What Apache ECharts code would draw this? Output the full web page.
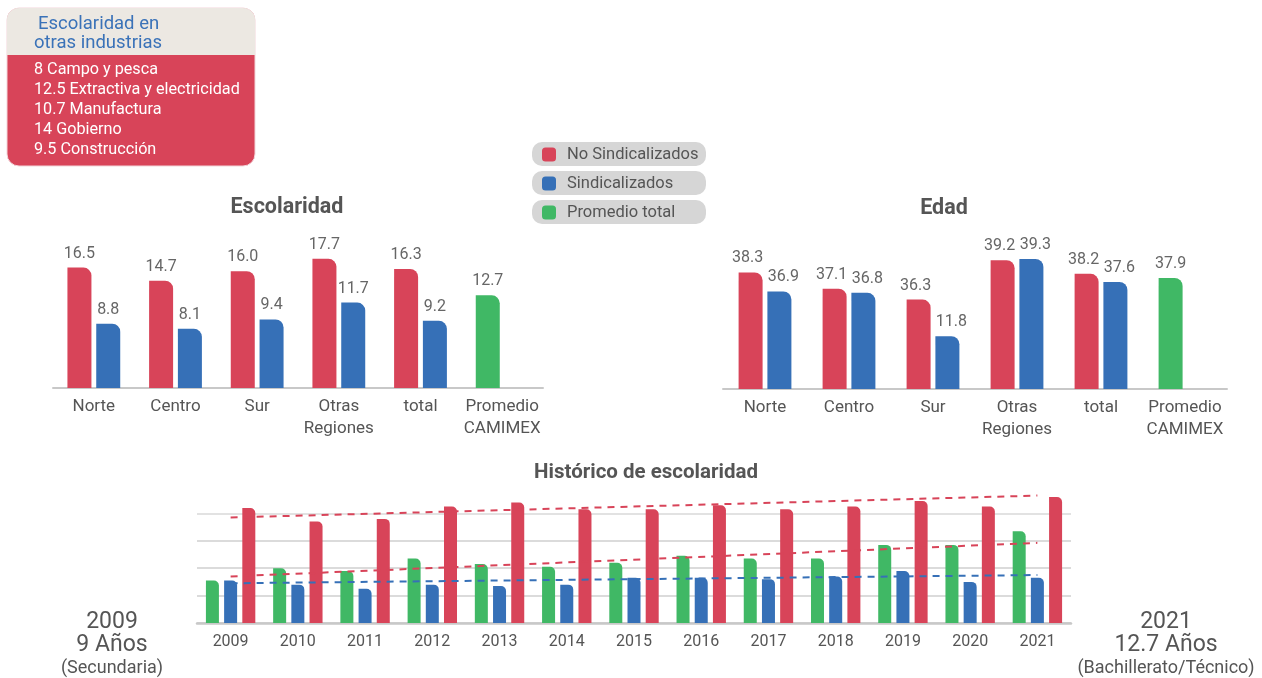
<!DOCTYPE html>
<html>
<head>
<meta charset="utf-8">
<script src="https://cdn.jsdelivr.net/npm/echarts@6/dist/echarts.min.js"></script>
<style>
  html, body { margin: 0; padding: 0; background: #fff; }
  #main { width: 1262px; height: 678px; }
</style>
</head>
<body>
<div id="main"></div>
<script>
// Datos del gráfico
const categorias = ['Norte', 'Centro', 'Sur', 'Otras\nRegiones', 'total', 'Promedio\nCAMIMEX'];

const escNoSind = [16.5, 14.7, 16.0, 17.7, 16.3, null];
const escSind = [8.8, 8.1, 9.4, 11.7, 9.2, null];
const escProm = [null, null, null, null, null, 12.7];

const edadNoSind = [38.3, 37.1, 36.3, 39.2, 38.2, null];
// altura dibujada en el original (la barra de Sur no coincide con su etiqueta)
const edadSind = [36.9, 36.8, 33.6, 39.3, 37.6, null];
const edadSindEtiquetas = ['36.9', '36.8', '11.8', '39.3', '37.6', ''];
const edadProm = [null, null, null, null, null, 37.9];

const anios = ['2009', '2010', '2011', '2012', '2013', '2014', '2015', '2016', '2017', '2018', '2019', '2020', '2021'];
const histProm = [9.1, 10.0, 9.8, 10.7, 10.3, 10.1, 10.4, 10.9, 10.7, 10.7, 11.7, 11.7, 12.7];
const histSind = [9.1, 8.8, 8.5, 8.8, 8.7, 8.8, 9.3, 9.3, 9.2, 9.4, 9.8, 9.0, 9.3];
const histNoSind = [14.4, 13.4, 13.6, 14.5, 14.8, 14.3, 14.3, 14.6, 14.3, 14.5, 14.9, 14.5, 15.2];
// líneas de tendencia (solo extremos)
const tendNoSind = [13.7, null, null, null, null, null, null, null, null, null, null, null, 15.3];
const tendProm = [9.4, null, null, null, null, null, null, null, null, null, null, null, 11.85];
const tendSind = [8.9, null, null, null, null, null, null, null, null, null, null, null, 9.5];

const industrias = ['8 Campo y pesca', '12.5 Extractiva y electricidad', '10.7 Manufactura', '14 Gobierno', '9.5 Construcción'];
const leyendas = ['No Sindicalizados', 'Sindicalizados', 'Promedio total'];

const ROJO = '#d84459';
const AZUL = '#3670b7';
const VERDE = '#40b865';
const GRIS = '#555555';
const FUENTE = 'Roboto';

var chartDom = document.getElementById('main');
var myChart = echarts.init(chartDom);

const etiquetaValor = {
    show: true,
    position: 'top',
    distance: 6,
    fontFamily: FUENTE,
    fontSize: 16,
    color: '#666',
    formatter: function (p) { return p.value == null ? '' : p.value.toFixed(1); }
};

function ejeCategorias(gridIndex) {
    return {
        type: 'category',
        gridIndex: gridIndex,
        data: categorias,
        axisTick: { show: false },
        axisLine: { lineStyle: { color: '#c8c8c8', width: 2 } },
        axisLabel: { interval: 0, fontFamily: FUENTE, fontSize: 17, color: GRIS, lineHeight: 22, margin: 8 }
    };
}

const leyendaBase = {
    left: 542,
    orient: 'horizontal',
    padding: [2, 0, 2, 0],
    itemWidth: 14,
    itemHeight: 14,
    icon: 'roundRect',
    selectedMode: false,
    formatter: '{t|{name}}',
    textStyle: {
        rich: { t: { fontFamily: FUENTE, fontSize: 16.5, color: GRIS, padding: [0, 0, 0, 6] } }
    }
};

// Cuadro de otras industrias
const cuadro = [
    { type: 'rect', shape: { x: 7, y: 8, width: 248, height: 158, r: 12 }, style: { fill: ROJO, stroke: '#f2d5da', lineWidth: 1 } },
    { type: 'rect', shape: { x: 7, y: 8, width: 248, height: 47, r: [12, 12, 0, 0] }, style: { fill: '#ece8e2' } },
    { type: 'text', x: 38, y: 24, style: { text: 'Escolaridad en', fontFamily: FUENTE, fontSize: 18.5, fill: '#3a72b8', verticalAlign: 'middle' } },
    { type: 'text', x: 34, y: 43, style: { text: 'otras industrias', fontFamily: FUENTE, fontSize: 18.5, fill: '#3a72b8', verticalAlign: 'middle' } }
];
industrias.forEach(function (t, i) {
    cuadro.push({ type: 'text', x: 34, y: 70 + i * 20, style: { text: t, fontFamily: FUENTE, fontSize: 16.2, fill: '#fff', verticalAlign: 'middle' } });
});

// fondos de la leyenda
const pildoras = [142, 171, 200].map(function (y) {
    return { type: 'rect', z: -1, shape: { x: 532, y: y, width: 174, height: 24, r: 10 }, style: { fill: '#d6d6d6' } };
});

function texto(t, x, y, size, bold) {
    return { type: 'text', x: x, y: y, style: { text: t, fontFamily: FUENTE, fontSize: size, fontWeight: bold ? 'bold' : 'normal', fill: GRIS, align: 'center', verticalAlign: 'middle' } };
}

const textos = [
    texto('Escolaridad', 287, 208, 21.5, true),
    texto('Edad', 944, 209, 21.5, true),
    texto('Histórico de escolaridad', 646, 473, 20.5, true),
    texto('2009', 112, 622, 23),
    texto('9 Años', 112, 645, 23),
    texto('(Secundaria)', 112, 668, 18),
    texto('2021', 1166, 622, 23),
    texto('12.7 Años', 1166, 645, 23),
    texto('(Bachillerato/Técnico)', 1166, 668, 18)
];

var option = {
    animation: false,
    textStyle: { fontFamily: FUENTE },
    graphic: cuadro.concat(pildoras, textos),
    legend: [
        Object.assign({}, leyendaBase, { top: 144, data: [leyendas[0]] }),
        Object.assign({}, leyendaBase, { top: 173, data: [leyendas[1]] }),
        Object.assign({}, leyendaBase, { top: 202, data: [leyendas[2]] })
    ],
    grid: [
        { left: 53, top: 242, width: 490, height: 146 },
        { left: 723, top: 244, width: 504, height: 145 },
        { left: 197, top: 486, width: 874, height: 137 }
    ],
    xAxis: [
        ejeCategorias(0),
        ejeCategorias(1),
        {
            type: 'category',
            gridIndex: 2,
            data: anios,
            axisTick: { show: false },
            axisLine: { lineStyle: { color: '#c8c8c8', width: 2.5 } },
            axisLabel: { interval: 0, fontFamily: FUENTE, fontSize: 16, color: GRIS, margin: 11 }
        }
    ],
    yAxis: [
        { type: 'value', gridIndex: 0, min: 0, max: 20, show: false },
        { type: 'value', gridIndex: 1, min: 29.7, max: 40.4, show: false },
        {
            type: 'value', gridIndex: 2, min: 6, max: 16, interval: 2,
            axisLine: { show: false }, axisTick: { show: false }, axisLabel: { show: false },
            // la línea de 16 no se dibuja
            splitLine: { lineStyle: { color: ['#cfcfcf', '#cfcfcf', '#cfcfcf', '#cfcfcf', '#d9d9d9', 'rgba(0,0,0,0)'], width: 1.5 } }
        }
    ],
    series: [
        // Escolaridad
        {
            name: 'No Sindicalizados', type: 'bar', xAxisIndex: 0, yAxisIndex: 0, stack: 'a',
            data: escNoSind, barWidth: 24, barGap: '20%',
            itemStyle: { color: ROJO, borderRadius: [0, 8, 0, 0] }, label: etiquetaValor
        },
        {
            name: 'Promedio total', type: 'bar', xAxisIndex: 0, yAxisIndex: 0, stack: 'a',
            data: escProm, barWidth: 24,
            itemStyle: { color: VERDE, borderRadius: [0, 8, 0, 0] }, label: etiquetaValor
        },
        {
            name: 'Sindicalizados', type: 'bar', xAxisIndex: 0, yAxisIndex: 0, stack: 'b',
            data: escSind, barWidth: 24, barGap: '20%',
            itemStyle: { color: AZUL, borderRadius: [0, 8, 0, 0] }, label: etiquetaValor
        },
        // Edad
        {
            name: 'No Sindicalizados', type: 'bar', xAxisIndex: 1, yAxisIndex: 1, stack: 'c',
            data: edadNoSind, barWidth: 24, barGap: '20%',
            itemStyle: { color: ROJO, borderRadius: [0, 8, 0, 0] },
            label: Object.assign({}, etiquetaValor, { offset: [-3, 0] })
        },
        {
            name: 'Promedio total', type: 'bar', xAxisIndex: 1, yAxisIndex: 1, stack: 'c',
            data: edadProm, barWidth: 24,
            itemStyle: { color: VERDE, borderRadius: [0, 8, 0, 0] }, label: etiquetaValor
        },
        {
            name: 'Sindicalizados', type: 'bar', xAxisIndex: 1, yAxisIndex: 1, stack: 'd',
            data: edadSind, barWidth: 24, barGap: '20%',
            itemStyle: { color: AZUL, borderRadius: [0, 8, 0, 0] },
            label: Object.assign({}, etiquetaValor, {
                offset: [4, 0],
                formatter: function (p) { return edadSindEtiquetas[p.dataIndex]; }
            })
        },
        // Histórico
        {
            name: 'Promedio total', type: 'bar', xAxisIndex: 2, yAxisIndex: 2,
            data: histProm, barWidth: 13, barGap: '40%',
            itemStyle: { color: VERDE, borderRadius: [0, 5, 0, 0] }
        },
        {
            name: 'Sindicalizados', type: 'bar', xAxisIndex: 2, yAxisIndex: 2,
            data: histSind, barWidth: 13, barGap: '40%',
            itemStyle: { color: AZUL, borderRadius: [0, 5, 0, 0] }
        },
        {
            name: 'No Sindicalizados', type: 'bar', xAxisIndex: 2, yAxisIndex: 2,
            data: histNoSind, barWidth: 13, barGap: '40%',
            itemStyle: { color: ROJO, borderRadius: [0, 5, 0, 0] }
        },
        {
            name: 'Tendencia no sindicalizados', type: 'line', xAxisIndex: 2, yAxisIndex: 2,
            data: tendNoSind, connectNulls: true, showSymbol: false, z: 5,
            lineStyle: { color: ROJO, width: 2, type: [7, 6] }
        },
        {
            name: 'Tendencia promedio', type: 'line', xAxisIndex: 2, yAxisIndex: 2,
            data: tendProm, connectNulls: true, showSymbol: false, z: 5,
            lineStyle: { color: ROJO, width: 2, type: [7, 6] }
        },
        {
            name: 'Tendencia sindicalizados', type: 'line', xAxisIndex: 2, yAxisIndex: 2,
            data: tendSind, connectNulls: true, showSymbol: false, z: 5,
            lineStyle: { color: AZUL, width: 2, type: [7, 6] }
        }
    ]
};

myChart.setOption(option);
</script>
</body>
</html>
